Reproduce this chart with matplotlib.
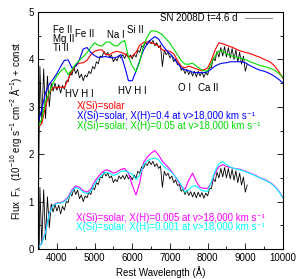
import numpy as np
import matplotlib
matplotlib.use("Agg")
import matplotlib.pyplot as plt
from matplotlib.ticker import MultipleLocator

plt.rcParams['font.family'] = ['Liberation Sans', 'DejaVu Sans']
plt.rcParams['mathtext.default'] = 'regular'

# ---------------- data ----------------
obs_wave = np.arange(3500, 9051, 50)
obs_flux = [
    -2.4, 1.30, 0.10, 1.25, 0.20, 1.10, 0.45, 0.95, 0.78, 0.95,
    0.80, 0.92, 0.74, 0.90, 0.82, 1.00, 0.98, 1.18, 1.12, 1.28,
    1.15, 1.24, 1.06, 1.14, 1.00, 1.12, 1.08, 1.20, 1.15, 1.30,
    1.25, 1.40, 1.36, 1.52, 1.50, 1.62, 1.54, 1.60, 1.50, 1.54,
    1.40, 1.47, 1.42, 1.54, 1.48, 1.55, 1.47, 1.57, 1.48, 1.54,
    1.46, 1.56, 1.50, 1.64, 1.60, 1.74, 1.70, 1.81, 1.76, 1.85,
    1.78, 1.85, 1.74, 1.80, 1.70, 1.75, 1.30, 1.64, 1.55, 1.60,
    1.48, 1.54, 1.40, 1.46, 1.34, 1.36, 1.22, 1.26, 1.15, 1.24,
    1.13, 1.21, 1.10, 1.20, 1.08, 1.20, 1.10, 1.19, 1.07, 1.18,
    1.12, 1.27, 1.28, 1.48, 1.42, 1.62, 1.50, 1.70, 1.52, 1.72,
    1.50, 1.70, 1.48, 1.68, 1.45, 1.65, 1.40, 1.60, 1.35, 1.52,
    1.20, 1.35,
]
obs_const = 2.55

model_wave = np.arange(3500, 10001, 100)
red_flux = [
    2.55, 2.65, 3.00, 3.30, 3.40, 3.40, 3.42, 3.40, 3.58, 3.75,
    3.88, 3.92, 3.93, 3.98, 4.10, 4.17, 4.20, 4.20, 4.10, 4.10,
    4.15, 4.17, 4.15, 4.12, 4.05, 4.07, 4.15, 4.30, 4.36, 4.37,
    4.35, 4.33, 4.28, 4.20, 4.18, 4.17, 4.12, 3.98, 3.85, 3.82,
    3.86, 3.83, 3.80, 3.77, 3.78, 3.82, 3.98, 4.20, 4.35, 4.33,
    4.30, 4.27, 4.24, 4.20, 4.17, 4.15, 4.13, 4.10, 4.07, 4.04,
    4.00, 3.97, 3.92, 3.84, 3.73, 3.60,
]
blue_flux = [
    2.65, 2.95, 3.30, 3.48, 3.58, 3.70, 3.85, 3.98, 3.99, 3.82,
    3.85, 4.00, 4.22, 4.25, 4.15, 4.08, 4.04, 4.05, 4.06, 4.04,
    4.03, 4.05, 4.10, 3.85, 3.55, 3.55, 3.75, 3.98, 4.20, 4.33,
    4.42, 4.48, 4.43, 4.30, 4.20, 4.12, 4.03, 3.92, 3.82, 3.78,
    3.76, 3.73, 3.72, 3.72, 3.72, 3.74, 3.80, 3.86, 3.90, 3.92,
    3.93, 3.95, 3.95, 3.95, 3.95, 3.93, 3.88, 3.84, 3.80, 3.77,
    3.75, 3.72, 3.68, 3.63, 3.57, 3.50,
]
green_flux = [
    2.55, 2.75, 3.10, 3.30, 3.50, 3.65, 3.75, 3.82, 3.68, 3.78,
    3.90, 3.98, 4.06, 4.14, 4.25, 4.35, 4.30, 4.28, 4.36, 4.37,
    4.30, 4.28, 4.36, 4.40, 4.05, 3.86, 3.74, 3.95, 4.30, 4.48,
    4.60, 4.60, 4.57, 4.52, 4.43, 4.34, 4.22, 4.10, 3.97, 3.90,
    3.90, 3.92, 3.86, 3.80, 3.76, 3.76, 3.92, 4.08, 4.18, 4.18,
    4.12, 4.08, 4.06, 4.04, 4.02, 4.00, 3.96, 3.93, 3.90, 3.87,
    3.85, 3.83, 3.80, 3.76, 3.70, 3.62,
]
magenta_flux = [
    0.03, 0.13, 0.36, 0.76, 0.93, 0.97, 0.98, 1.02, 1.10, 1.25,
    1.33, 1.30, 1.23, 1.20, 1.26, 1.42, 1.53, 1.62, 1.67, 1.65,
    1.60, 1.63, 1.68, 1.70, 1.60, 1.35, 1.14, 1.40, 1.82, 1.94,
    2.02, 2.08, 1.98, 1.85, 1.77, 1.68, 1.58, 1.45, 1.32, 1.26,
    1.45, 1.60, 1.42, 1.30, 1.28, 1.28, 1.40, 1.60, 1.74, 1.78,
    1.74, 1.72, 1.70, 1.69, 1.67, 1.64, 1.61, 1.58, 1.54, 1.50,
    1.47, 1.43, 1.38, 1.31, 1.21, 1.08,
]
cyan_flux = [
    0.02, 0.12, 0.35, 0.75, 0.92, 0.96, 0.97, 1.00, 1.08, 1.22,
    1.30, 1.27, 1.20, 1.17, 1.22, 1.37, 1.48, 1.57, 1.62, 1.60,
    1.55, 1.58, 1.64, 1.65, 1.62, 1.58, 1.47, 1.56, 1.77, 1.86,
    1.90, 1.92, 1.88, 1.78, 1.70, 1.65, 1.57, 1.47, 1.35, 1.20,
    1.25, 1.33, 1.33, 1.26, 1.22, 1.22, 1.42, 1.65, 1.80, 1.84,
    1.78, 1.73, 1.70, 1.68, 1.66, 1.63, 1.60, 1.57, 1.53, 1.50,
    1.46, 1.42, 1.37, 1.30, 1.20, 1.08,
]

legend_label = "SN 2008D t=4.6 d"
model_labels = [
    ("X(Si)=solar", 'red'),
    ("X(Si)=solar, X(H)=0.4 at v>18,000 km s\u207b\u00b9", 'blue'),
    ("X(Si)=solar, X(H)=0.05 at v>18,000 km s\u207b\u00b9", '#00dd00'),
]
model_labels_low = [
    ("X(Si)=solar, X(H)=0.005 at v>18,000 km s\u207b\u00b9", 'magenta'),
    ("X(Si)=solar, X(H)=0.001 at v>18,000 km s\u207b\u00b9", 'cyan'),
]
line_ids = [
    ("Fe II\nMg II\nTi II", 3900, 4.72),
    ("Fe II", 4480, 4.53),
    ("Na I", 5330, 4.52),
    ("Si II", 5860, 4.63),
    ("HV H I", 4215, 3.26),
    ("HV H I", 5620, 3.33),
    ("O I", 7210, 3.39),
    ("Ca II", 7745, 3.39),
]

FS = 7

# ---------------- figure ----------------
fig = plt.figure(figsize=(3.0, 2.79), dpi=100)
ax = fig.add_axes([0.1267, 0.1075, 0.8166, 0.8495])

obs = np.array(obs_flux)
ax.plot(obs_wave, obs + obs_const, color='black', lw=0.6)
ax.plot(obs_wave, obs, color='black', lw=0.6)

ax.plot(model_wave, red_flux, color='red', lw=0.8)
ax.plot(model_wave, blue_flux, color='blue', lw=0.8)
ax.plot(model_wave, green_flux, color='#00dd00', lw=0.8)
ax.plot(model_wave, magenta_flux, color='magenta', lw=0.8)
ax.plot(model_wave, cyan_flux, color='cyan', lw=0.8)

ax.set_xlim(3500, 10000)
ax.set_ylim(0, 5)
ax.xaxis.set_major_locator(MultipleLocator(1000))
ax.xaxis.set_minor_locator(MultipleLocator(500))
ax.yaxis.set_major_locator(MultipleLocator(1))
ax.yaxis.set_minor_locator(MultipleLocator(0.5))
ax.tick_params(which='both', direction='in', right=True, top=False,
               labelsize=FS, pad=3, width=0.6)
ax.tick_params(which='major', length=4)
ax.tick_params(which='minor', length=2)
for s in ax.spines.values():
    s.set_linewidth(0.8)

ax.set_xlabel("Rest Wavelength (Å)", fontsize=FS, labelpad=2)
ax.set_ylabel("Flux  F$_\\lambda$  (10$^{-16}$ erg s$^{-1}$ cm$^{-2}$ Å$^{-1}$) + const",
              fontsize=FS, labelpad=3)

for txt, x, y in line_ids:
    ax.text(x, y, txt, fontsize=FS, ha='left', va='top' if '\n' in txt else 'center',
            linespacing=0.85)

ys = [3.02, 2.81, 2.60]
for (txt, c), y in zip(model_labels, ys):
    ax.text(4535, y, txt, color=c, fontsize=FS, ha='left', va='center')
ys2 = [0.66, 0.46]
for (txt, c), y in zip(model_labels_low, ys2):
    ax.text(4500, y, txt, color=c, fontsize=FS, ha='left', va='center')

ax.text(0.816, 0.9726, legend_label, transform=ax.transAxes, fontsize=FS,
        ha='right', va='center')
ax.plot([0.845, 0.955], [0.9726, 0.9726], transform=ax.transAxes,
        color='0.55', lw=0.8)

fig.savefig("out.png", dpi=100)
